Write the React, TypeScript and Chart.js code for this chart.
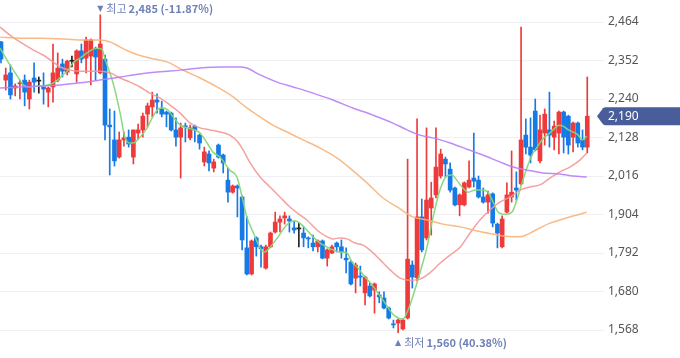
import { useEffect, useRef } from "react";
import { Chart, registerables } from "chart.js";

Chart.register(...registerables);

// ---- Daily OHLC (candle index 0..124) ----
const opens = [
  2406, 2295, 2316, 2272, 2284, 2295, 2240, 2301, 2292, 2275, 2260, 2275, 2295, 2342, 2318, 2350, 2313, 2380, 2359, 2365,
  2386, 2316, 2356, 2164, 2121, 2071, 2121, 2129, 2071, 2141, 2150, 2196, 2217, 2237, 2211, 2202, 2199, 2150, 2129, 2161,
  2127, 2161, 2135, 2057, 2080, 2039, 2106, 2077, 2004, 1969, 1987, 1955, 1807, 1731, 1836, 1810, 1748, 1810, 1853, 1882,
  1894, 1891, 1865, 1862, 1850, 1836, 1821, 1810, 1827, 1777, 1792, 1821, 1810, 1777, 1766, 1719, 1725, 1676, 1696, 1684,
  1670, 1661, 1632, 1585, 1588, 1571, 1603, 1757, 1720, 1897, 1836, 1923, 1961, 2016, 2065, 2036, 1981, 1932, 1932, 1984,
  2010, 2004, 1955, 1940, 1964, 1876, 1810, 1911, 1955, 1981, 1993, 2135, 2100, 2205, 2060, 2141, 2150, 2129, 2141, 2202,
  2190, 2129, 2170, 2121, 2100,
];
const highs = [
  2408, 2330, 2339, 2284, 2295, 2310, 2295, 2345, 2304, 2316, 2275, 2400, 2374, 2356, 2353, 2365, 2383, 2400, 2420, 2415,
  2391, 2485, 2368, 2211, 2205, 2144, 2144, 2150, 2150, 2167, 2199, 2228, 2260, 2255, 2234, 2205, 2202, 2185, 2170, 2170,
  2164, 2164, 2138, 2100, 2089, 2065, 2109, 2080, 2039, 1990, 1990, 1958, 1897, 1830, 1839, 1815, 1815, 1853, 1911, 1900,
  1911, 1900, 1885, 1879, 1868, 1839, 1844, 1830, 1830, 1804, 1815, 1824, 1830, 1807, 1769, 1763, 1754, 1725, 1705, 1705,
  1679, 1679, 1635, 1597, 1600, 1600, 2065, 1769, 2182, 1949, 2156, 1998, 2156, 2094, 2071, 2054, 1984, 1964, 1999, 2060,
  2141, 2016, 1981, 1972, 1967, 1879, 1900, 1996, 2089, 2028, 2449, 2182, 2185, 2240, 2193, 2211, 2260, 2176, 2205, 2205,
  2193, 2173, 2173, 2150, 2304,
];
const lows = [
  2345, 2266, 2240, 2249, 2240, 2220, 2211, 2260, 2257, 2225, 2217, 2231, 2290, 2304, 2310, 2333, 2289, 2345, 2316, 2281,
  2295, 2313, 2121, 2019, 2045, 2068, 2103, 2100, 2051, 2124, 2129, 2159, 2188, 2199, 2188, 2159, 2147, 2103, 2010, 2115,
  2121, 2115, 2094, 2045, 2031, 2028, 2068, 2025, 1940, 1966, 1897, 1801, 1728, 1728, 1783, 1751, 1745, 1807, 1850, 1853,
  1876, 1853, 1850, 1810, 1810, 1807, 1798, 1795, 1775, 1754, 1790, 1795, 1777, 1734, 1699, 1676, 1696, 1641, 1664, 1617,
  1647, 1629, 1600, 1574, 1560, 1568, 1600, 1690, 1711, 1795, 1830, 1844, 1952, 2010, 2013, 1969, 1929, 1900, 1929, 1981,
  1984, 1952, 1937, 1908, 1868, 1807, 1807, 1908, 1940, 1946, 1990, 2080, 2054, 2089, 2054, 2106, 2100, 2092, 2080, 2083,
  2080, 2086, 2100, 2092, 2083,
];
const closes = [
  2356, 2310, 2252, 2278, 2287, 2260, 2289, 2289, 2292, 2269, 2272, 2316, 2330, 2321, 2350, 2350, 2380, 2356, 2412, 2412,
  2362, 2400, 2164, 2159, 2060, 2121, 2127, 2109, 2150, 2150, 2190, 2220, 2237, 2231, 2196, 2196, 2150, 2129, 2156, 2159,
  2156, 2150, 2112, 2086, 2054, 2057, 2071, 2054, 1969, 1987, 1981, 1830, 1731, 1827, 1810, 1804, 1810, 1850, 1882, 1891,
  1900, 1885, 1859, 1862, 1836, 1833, 1810, 1827, 1777, 1801, 1810, 1810, 1795, 1772, 1702, 1757, 1722, 1722, 1667, 1702,
  1664, 1632, 1603, 1583, 1597, 1597, 1774, 1722, 1897, 1801, 1946, 1952, 2042, 2080, 2051, 1975, 1932, 1961, 1996, 2004,
  2001, 1955, 1940, 1961, 1879, 1850, 1891, 1961, 1969, 1975, 2121, 2100, 2077, 2092, 2150, 2196, 2135, 2161, 2202, 2129,
  2106, 2170, 2112, 2100, 2190,
];

// ---- Moving averages as [candle index, value] ----
const ma5: [number, number][] = [
  [-0.2, 2388], [1.9, 2339], [4.0, 2295], [4.7, 2281], [6.1, 2275], [8.2, 2278], [9.9, 2281], [11.4, 2289], [13.1, 2310],
  [14.2, 2324], [15.2, 2345], [16.7, 2359], [18.2, 2374], [19.5, 2385], [20.5, 2388], [21.4, 2383], [22.0, 2356],
  [23.7, 2287], [25.2, 2199], [26.2, 2129], [27.3, 2112], [27.9, 2112], [29.4, 2129], [30.9, 2156], [32.1, 2188],
  [33.6, 2214], [34.3, 2214], [35.3, 2208], [36.4, 2188], [37.9, 2164], [39.3, 2156], [41.5, 2147], [42.1, 2141],
  [43.6, 2112], [44.8, 2086], [46.3, 2071], [48.4, 2033], [49.9, 2013], [51.0, 1955], [52.0, 1897], [53.3, 1853],
  [54.8, 1807], [55.8, 1795], [56.9, 1809], [58.6, 1839], [60.1, 1868], [61.1, 1882], [62.2, 1885], [63.2, 1879],
  [64.7, 1859], [66.0, 1839], [67.5, 1821], [69.0, 1809], [70.2, 1801], [71.7, 1795], [73.2, 1792], [74.2, 1766],
  [75.5, 1748], [77.0, 1722], [78.5, 1699], [79.7, 1676], [81.2, 1647], [82.7, 1617], [84.0, 1603], [85.0, 1600],
  [86.1, 1626], [87.2, 1670], [88.6, 1734], [90.1, 1809], [91.4, 1897], [92.9, 1978], [94.3, 2016], [95.4, 2019],
  [96.4, 2004], [97.7, 1981], [98.8, 1969], [100.3, 1975], [101.7, 1975], [103.0, 1969], [104.1, 1940], [105.1, 1911],
  [106.2, 1905], [107.0, 1905], [108.1, 1911], [109.1, 1946], [110.2, 1996], [111.3, 2042], [112.3, 2077], [113.4, 2100],
  [114.4, 2121], [115.5, 2135], [116.8, 2150], [118.0, 2164], [118.9, 2161], [120.0, 2150], [121.0, 2144], [122.1, 2135],
  [122.9, 2121], [123.9, 2132],
];
const ma20: [number, number][] = [
  [-0.2, 2449], [1.9, 2426], [4.0, 2406], [6.8, 2383], [8.9, 2368], [11.0, 2348], [12.5, 2333], [14.6, 2324], [16.7, 2321],
  [18.8, 2321], [20.9, 2321], [23.1, 2316], [25.2, 2301], [27.3, 2289], [29.4, 2275], [31.5, 2257], [33.6, 2243],
  [35.7, 2223], [37.9, 2199], [40.0, 2170], [42.1, 2156], [44.2, 2150], [46.3, 2144], [48.4, 2135], [50.1, 2115],
  [51.2, 2092], [52.7, 2054], [54.8, 2013], [56.9, 1984], [59.0, 1955], [61.1, 1926], [63.2, 1903], [64.7, 1888],
  [66.8, 1859], [69.0, 1839], [70.2, 1833], [71.7, 1836], [73.2, 1833], [74.9, 1821], [76.6, 1815], [78.0, 1801],
  [80.2, 1772], [82.3, 1743], [84.4, 1719], [86.5, 1713], [88.6, 1716], [90.7, 1734], [92.9, 1763], [95.0, 1786],
  [97.1, 1809], [99.2, 1850], [101.3, 1888], [103.4, 1917], [105.5, 1940], [107.7, 1955], [109.8, 1975], [111.9, 1984],
  [114.0, 1990], [116.1, 2010], [118.2, 2028], [120.3, 2042], [122.5, 2063], [123.9, 2083],
];
const ma60: [number, number][] = [
  [-0.2, 2420], [4.0, 2417], [8.2, 2417], [12.5, 2415], [16.7, 2412], [20.9, 2412], [23.1, 2406], [25.2, 2391],
  [27.9, 2374], [31.5, 2359], [35.1, 2348], [38.5, 2324], [42.1, 2301], [45.7, 2275], [49.1, 2246], [52.0, 2214],
  [54.8, 2188], [57.5, 2164], [60.5, 2144], [63.9, 2121], [67.5, 2097], [71.1, 2068], [73.8, 2039], [77.4, 1996],
  [80.8, 1952], [83.8, 1926], [87.1, 1897], [90.1, 1888], [93.5, 1876], [97.1, 1868], [100.7, 1856], [104.1, 1847],
  [106.6, 1841], [109.8, 1839], [111.9, 1850], [114.0, 1865], [116.1, 1879], [118.2, 1888], [120.3, 1897],
  [122.5, 1905], [123.9, 1911],
];
const ma120: [number, number][] = [
  [-0.2, 2272], [4.0, 2275], [8.2, 2278], [12.5, 2281], [16.7, 2287], [20.9, 2295], [25.2, 2304], [29.4, 2313],
  [33.6, 2319], [37.9, 2324], [42.1, 2330], [46.3, 2333], [50.5, 2333], [52.0, 2330], [54.8, 2310], [58.4, 2289],
  [61.8, 2275], [66.0, 2257], [70.2, 2237], [74.4, 2214], [78.7, 2193], [82.9, 2170], [85.9, 2150], [88.6, 2135],
  [92.2, 2124], [95.0, 2112], [98.6, 2094], [101.9, 2077], [105.5, 2057], [108.3, 2042], [111.3, 2033], [114.6, 2025],
  [118.2, 2022], [121.0, 2016], [123.9, 2013],
];

const yTicks = [1568, 1680, 1792, 1904, 2016, 2128, 2240, 2352, 2464];
const highText = "최고";
const lowText = "최저";

const UP = "#ee3a3a";
const DOWN = "#1579e6";
const FLAT = "#222222";
const MARK = "#6e81b7";
const BOX = "#485d99";

const fmt = (v: number) => Math.round(v).toLocaleString("en-US");

const candleColors = closes.map((c, i) => (c > opens[i] ? UP : c < opens[i] ? DOWN : FLAT));

function drawMarker(ctx: CanvasRenderingContext2D, xc: number, y: number, arrow: string, word: string, nums: string) {
  ctx.save();
  ctx.fillStyle = MARK;
  ctx.textBaseline = "middle";
  ctx.textAlign = "center";
  ctx.font = "8px 'DejaVu Sans'";
  ctx.fillText(arrow, xc, y);
  ctx.textAlign = "left";
  ctx.font = "11px 'Noto Sans CJK KR'";
  let x = xc + 6;
  ctx.fillText(word, x, y);
  x += ctx.measureText(word).width + 2;
  ctx.font = "bold 11px 'Noto Sans CJK KR'";
  ctx.fillText(nums, x, y);
  ctx.restore();
}

const markerPlugin = {
  id: "markers",
  afterDraw(chart: any) {
    const { ctx, chartArea } = chart;
    const xs = chart.scales.x;
    const ys = chart.scales.y;
    let hi = 0;
    let lo = 0;
    highs.forEach((v, i) => { if (v > highs[hi]) hi = i; });
    lows.forEach((v, i) => { if (v < lows[lo]) lo = i; });
    const last = closes[closes.length - 1];
    const pct = (v: number) => (((last - v) / v) * 100).toFixed(2);
    drawMarker(ctx, xs.getPixelForValue(hi), ys.getPixelForValue(highs[hi]) - 6, "▼", highText, `${fmt(highs[hi])} (${pct(highs[hi])}%)`);
    drawMarker(ctx, xs.getPixelForValue(lo), ys.getPixelForValue(lows[lo]) + 10, "▲", lowText, `${fmt(lows[lo])} (${pct(lows[lo])}%)`);

    // current price box
    const py = ys.getPixelForValue(last);
    const left = chartArea.right;
    const tip = left - 7;
    const h = 9;
    const right = chart.width;
    ctx.save();
    ctx.fillStyle = BOX;
    ctx.beginPath();
    ctx.moveTo(tip, py);
    ctx.lineTo(left - 1, py - h + 1);
    ctx.quadraticCurveTo(left, py - h, left + 1.5, py - h);
    ctx.lineTo(right, py - h);
    ctx.lineTo(right, py + h);
    ctx.lineTo(left + 1.5, py + h);
    ctx.quadraticCurveTo(left, py + h, left - 1, py + h - 1);
    ctx.closePath();
    ctx.fill();
    ctx.fillStyle = "#ffffff";
    ctx.font = "12px 'Noto Sans'";
    ctx.textBaseline = "middle";
    ctx.textAlign = "left";
    ctx.fillText(fmt(last), left + 4, py + 0.5);
    ctx.restore();
  },
};

export default function App() {
  const ref = useRef<HTMLCanvasElement | null>(null);

  useEffect(() => {
    if (!ref.current) return;
    const idx = closes.map((_, i) => i);
    const line = (data: [number, number][], color: string) => ({
      type: "line" as const,
      data: data.map(([x, y]) => ({ x, y })),
      borderColor: color,
      borderWidth: 1.5,
      pointRadius: 0,
      cubicInterpolationMode: "monotone" as const,
      order: 0,
    });
    const chart = new Chart(ref.current, {
      type: "bar",
      data: {
        datasets: [
          line(ma120, "rgba(183,128,246,0.9)"),
          line(ma60, "rgba(250,178,120,0.9)"),
          line(ma20, "rgba(245,150,150,0.9)"),
          line(ma5, "rgba(130,214,120,0.95)"),
          {
            type: "bar",
            data: idx.map((i) => ({ x: i, y: [Math.min(opens[i], closes[i]), Math.max(opens[i], closes[i])] })) as any,
            backgroundColor: candleColors,
            barThickness: 4,
            minBarLength: 1,
            grouped: false,
            order: 1,
          } as any,
          {
            type: "bar",
            data: idx.map((i) => ({ x: i, y: [lows[i], highs[i]] })) as any,
            backgroundColor: candleColors,
            barThickness: 1,
            grouped: false,
            order: 2,
          } as any,
        ],
      },
      options: {
        responsive: false,
        animation: false,
        layout: { padding: 0 },
        plugins: { legend: { display: false }, tooltip: { enabled: false } },
        scales: {
          x: {
            type: "linear",
            display: false,
            offset: false,
            min: -0.21,
            max: 127.54,
          },
          y: {
            position: "right",
            min: 1486.55,
            max: 2528,
            afterBuildTicks: (s: any) => {
              s.ticks = yTicks.map((v) => ({ value: v }));
            },
            afterFit: (s: any) => {
              s.width = 76;
              s.paddingTop = 0;
              s.paddingBottom = 0;
            },
            grid: { color: "#eef0f3", drawTicks: false },
            border: { display: false },
            ticks: {
              padding: 4,
              color: "#555555",
              font: { family: "'Noto Sans'", size: 12 },
              callback: (v: any) => fmt(Number(v)),
            },
          },
        },
      } as any,
      plugins: [markerPlugin],
    });
    return () => chart.destroy();
  }, []);

  return (
    <div style={{ position: "absolute", left: 0, top: 0, width: 680, height: 358, background: "#fff" }}>
      <canvas ref={ref} width={680} height={358} style={{ display: "block" }} />
    </div>
  );
}
